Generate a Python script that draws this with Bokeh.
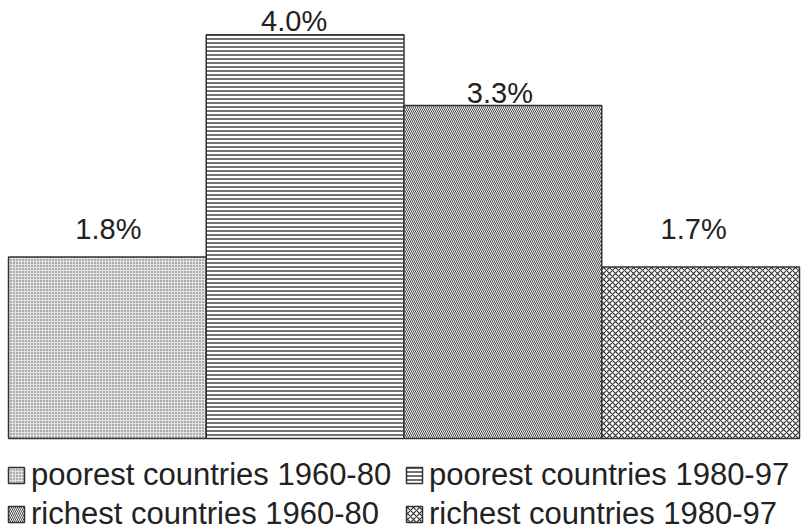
from bokeh.plotting import figure
from bokeh.models import ColumnDataSource, Range1d, Legend, LegendItem
from bokeh.core.properties import value
from bokeh.embed import file_html
from bokeh.resources import INLINE

# Average annual growth, per group and period
groups = ["poorest countries 1960-80", "poorest countries 1980-97",
          "richest countries 1960-80", "richest countries 1980-97"]
growth = [1.8, 4.0, 3.3, 1.7]
labels = ["1.8%", "4.0%", "3.3%", "1.7%"]

# fill styles, one per bar
HATCH = ["dot", "horizontal_line", "left_diagonal_line", "diagonal_cross"]
HATCH_SCALE = [3, 4, 4, 6]
HATCH_WEIGHT = [1, 1.2, 0.9, 1.2]
HATCH_COLOR = ["#555555", "#111111", "#3a3a3a", "#333333"]
FILL = ["#e4e4e4", "white", "#f4f4f4", "white"]
# pixel nudges for the value labels
LX = [1, -11, -3, -7]
LY = [-28, -14, -12, -38]

FONT = "Liberation Sans"

src = ColumnDataSource(dict(
    x=[i + 0.5 for i in range(len(growth))],
    top=growth,
    label=labels,
    hatch=HATCH,
    hscale=HATCH_SCALE,
    hweight=HATCH_WEIGHT,
    hcolor=HATCH_COLOR,
    fill=FILL,
    lx=LX,
    ly=LY,
))

p = figure(width=807, height=532, output_backend="svg", toolbar_location=None,
           x_range=Range1d(-0.0405, 4.0405), y_range=Range1d(-0.93, 4.34),
           min_border=0, min_border_left=0, min_border_right=0,
           min_border_top=0, min_border_bottom=0)
p.axis.visible = False
p.grid.visible = False
p.outline_line_color = None
p.background_fill_color = "white"
p.border_fill_color = "white"

r = p.vbar(x="x", top="top", bottom=0, width=1.0, source=src,
           fill_color="fill", line_color="#333333", line_width=1.5,
           hatch_pattern="hatch", hatch_scale="hscale", hatch_color="hcolor",
           hatch_weight="hweight")

p.text(x="x", y="top", text="label", source=src,
       x_offset="lx", y_offset="ly",
       text_align="center", text_baseline="alphabetic",
       text_font=value(FONT), text_font_size="29px", text_color="#222222")

def make_legend(idx, loc):
    items = [LegendItem(label=groups[i], renderers=[r], index=i) for i in idx]
    return Legend(items=items, location=loc, orientation="vertical",
                  label_text_font=FONT, label_text_font_size="31px",
                  label_text_color="#222222", glyph_width=20, glyph_height=20,
                  label_standoff=5, spacing=3, padding=0, margin=0,
                  border_line_color=None, background_fill_alpha=0)

p.add_layout(make_legend([0, 2], (6, 0)))
p.add_layout(make_legend([1, 3], (404, 0)))

open("out.html", "w").write(file_html(p, INLINE))
